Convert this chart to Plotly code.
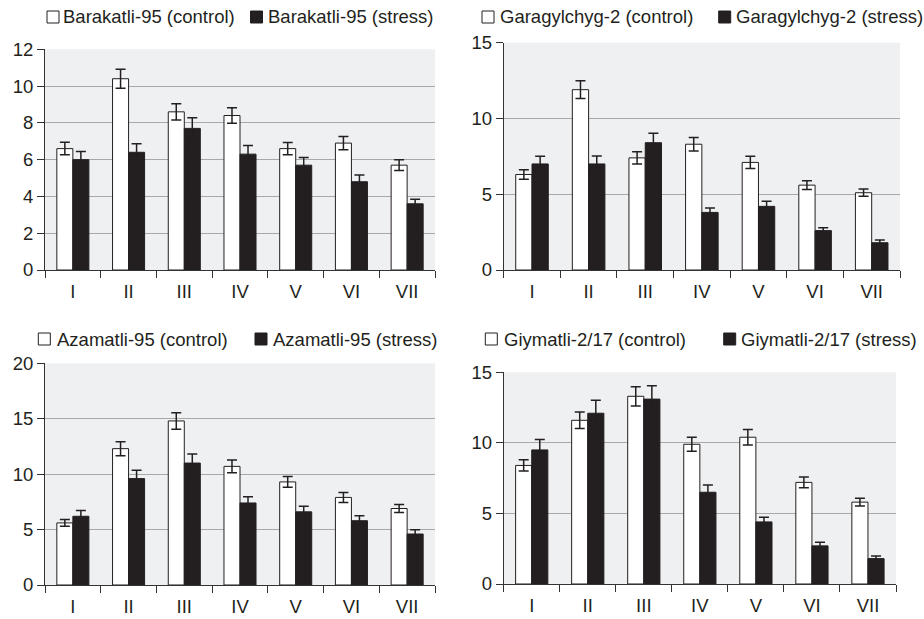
import plotly.graph_objects as go

W, H = 924, 619

stages = ["I", "II", "III", "IV", "V", "VI", "VII"]

varieties = ["Barakatli-95", "Garagylchyg-2", "Azamatli-95", "Giymatli-2/17"]

barakatli_control = [6.6, 10.4, 8.6, 8.4, 6.6, 6.9, 5.7]
barakatli_control_err = [0.34, 0.52, 0.44, 0.42, 0.33, 0.36, 0.29]
barakatli_stress = [6.0, 6.4, 7.7, 6.3, 5.7, 4.8, 3.6]
barakatli_stress_err = [0.44, 0.47, 0.58, 0.47, 0.42, 0.36, 0.25]

garagylchyg_control = [6.3, 11.9, 7.4, 8.3, 7.1, 5.6, 5.1]
garagylchyg_control_err = [0.31, 0.59, 0.40, 0.44, 0.40, 0.29, 0.24]
garagylchyg_stress = [7.0, 7.0, 8.4, 3.8, 4.2, 2.6, 1.8]
garagylchyg_stress_err = [0.51, 0.53, 0.62, 0.29, 0.33, 0.18, 0.18]

azamatli_control = [5.6, 12.3, 14.8, 10.7, 9.3, 7.9, 6.9]
azamatli_control_err = [0.30, 0.63, 0.75, 0.57, 0.48, 0.45, 0.36]
azamatli_stress = [6.2, 9.6, 11.0, 7.4, 6.6, 5.8, 4.6]
azamatli_stress_err = [0.51, 0.75, 0.81, 0.57, 0.51, 0.45, 0.39]

giymatli_control = [8.4, 11.6, 13.3, 9.9, 10.4, 7.2, 5.8]
giymatli_control_err = [0.40, 0.59, 0.68, 0.50, 0.55, 0.38, 0.28]
giymatli_stress = [9.5, 12.1, 13.1, 6.5, 4.4, 2.7, 1.8]
giymatli_stress_err = [0.74, 0.92, 0.95, 0.52, 0.33, 0.26, 0.19]

y_max = [12, 15, 20, 15]
y_dtick = [2, 5, 5, 5]

INK = "#231f20"
FONT = "Liberation Sans, Arial, sans-serif"
FS = 18.5

panels = [
    (barakatli_control, barakatli_control_err, barakatli_stress, barakatli_stress_err),
    (garagylchyg_control, garagylchyg_control_err, garagylchyg_stress, garagylchyg_stress_err),
    (azamatli_control, azamatli_control_err, azamatli_stress, azamatli_stress_err),
    (giymatli_control, giymatli_control_err, giymatli_stress, giymatli_stress_err),
]

# plot-area boxes in pixels: (left, right, top, bottom)
boxes = [
    (45, 435, 49.3, 270),
    (503.7, 900, 42.7, 270),
    (45, 435, 363.3, 585),
    (503.7, 896, 372.3, 584),
]

# legend layout in pixels: (y, control square x, control text x, stress square x, stress text x)
legend_pos = [
    (17, 47, 62, 250.5, 267),
    (17, 482, 499.3, 718.7, 735),
    (339, 38.3, 55.7, 255, 272.3),
    (339, 485.3, 502.7, 723.7, 740.3),
]


def px(x):
    return x / W


def py(y):
    return 1 - y / H


fig = go.Figure()
shapes = []
annotations = []

for i, (ctrl, ctrl_err, strs, strs_err) in enumerate(panels):
    n = i + 1
    xa = "x" if n == 1 else f"x{n}"
    ya = "y" if n == 1 else f"y{n}"
    name = varieties[i]

    fig.add_trace(go.Bar(
        x=stages, y=ctrl, name=f"{name} (control)",
        marker=dict(color="white", line=dict(color=INK, width=1)),
        error_y=dict(type="data", array=ctrl_err, visible=True,
                     color=INK, thickness=1.5, width=5),
        xaxis=xa, yaxis=ya, showlegend=False,
    ))
    fig.add_trace(go.Bar(
        x=stages, y=strs, name=f"{name} (stress)",
        marker=dict(color=INK, line=dict(color=INK, width=1)),
        error_y=dict(type="data", array=strs_err, visible=True,
                     color=INK, thickness=1.5, width=5),
        xaxis=xa, yaxis=ya, showlegend=False,
    ))

    left, right, top, bottom = boxes[i]
    xkey = "xaxis" if n == 1 else f"xaxis{n}"
    ykey = "yaxis" if n == 1 else f"yaxis{n}"
    fig.layout[xkey] = dict(
        domain=[px(left), px(right)], anchor=ya,
        type="category", range=[-0.5, 6.5],
        showline=True, linecolor="#333333", linewidth=1,
        ticks="outside", tickson="boundaries", ticklen=7,
        tickcolor="#333333", showgrid=False, zeroline=False,
        tickfont=dict(family=FONT, size=FS, color=INK),
        ticklabelstandoff=5, automargin=False,
        fixedrange=True,
    )
    fig.layout[ykey] = dict(
        domain=[py(bottom), py(top)], anchor=xa,
        range=[0, y_max[i]], dtick=y_dtick[i], tick0=0,
        showline=True, linecolor="#333333", linewidth=1,
        ticks="outside", ticklen=7, tickcolor="#333333",
        showgrid=True, gridcolor="#a8a8a8", gridwidth=1,
        zeroline=False, automargin=False,
        tickfont=dict(family=FONT, size=FS, color=INK),
        fixedrange=True,
    )

    # light panel background
    shapes.append(dict(
        type="rect", xref="paper", yref="paper", layer="below",
        x0=px(left), x1=px(right), y0=py(bottom), y1=py(top),
        fillcolor="#eff0f2", line=dict(width=0),
    ))

    # legend keys
    ly, csq, ctx, ssq, stx = legend_pos[i]
    sq = 12
    for x0, fill in ((csq, "white"), (ssq, INK)):
        shapes.append(dict(
            type="rect", xref="paper", yref="paper",
            x0=px(x0), x1=px(x0 + sq), y0=py(ly + sq / 2), y1=py(ly - sq / 2),
            fillcolor=fill, line=dict(color=INK, width=1),
        ))
    for x0, label in ((ctx, f"{name} (control)"), (stx, f"{name} (stress)")):
        annotations.append(dict(
            xref="paper", yref="paper", x=px(x0), y=py(ly),
            xanchor="left", yanchor="middle", showarrow=False,
            borderpad=0, text=label,
            font=dict(family=FONT, size=FS, color=INK),
        ))

fig.update_layout(
    width=W, height=H,
    margin=dict(l=0, r=0, t=0, b=0, autoexpand=False),
    paper_bgcolor="white", plot_bgcolor="rgba(0,0,0,0)",
    barmode="group", bargap=0.425, bargroupgap=0,
    shapes=shapes, annotations=annotations,
    font=dict(family=FONT, color=INK),
)

fig.write_html("out.html")
